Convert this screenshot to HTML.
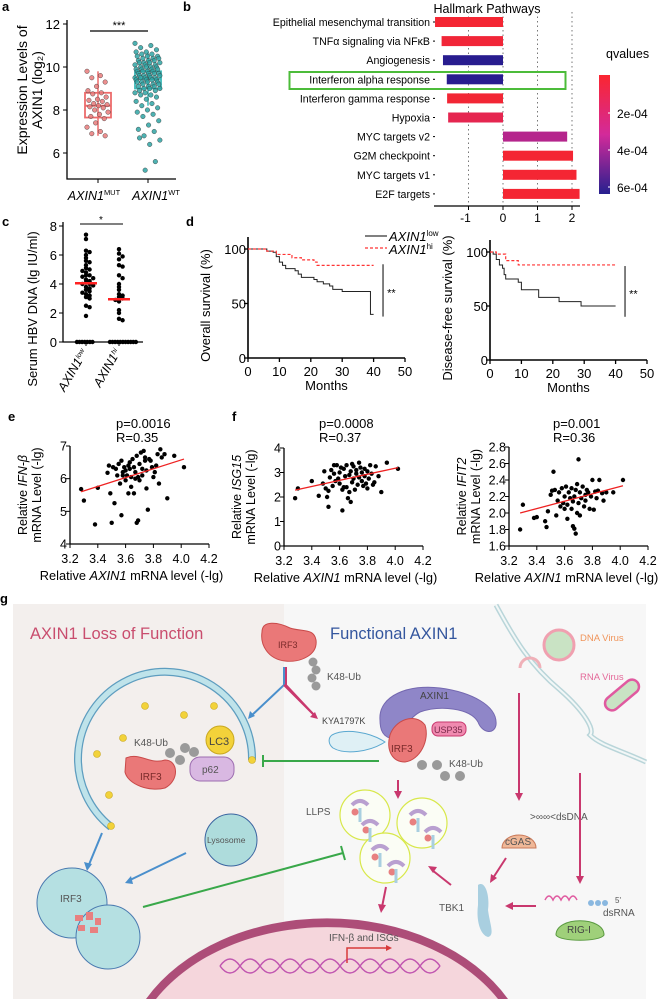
<!DOCTYPE html>
<html><head><meta charset="utf-8"><style>
html,body{margin:0;padding:0;background:#fff;width:660px;height:999px;overflow:hidden;}
svg{display:block;font-family:"Liberation Sans",Arial,sans-serif;overflow:hidden;}
</style></head><body>
<svg id="fig" width="660" height="999" viewBox="0 0 660 999" xmlns="http://www.w3.org/2000/svg">
<g id="chrome" font-weight="bold" font-size="13">
<text x="2" y="11">a</text>
<text x="183" y="11">b</text>
<text x="2" y="226">c</text>
<text x="186" y="226">d</text>
<text x="8" y="421">e</text>
<text x="232" y="421">f</text>
<text x="0" y="603">g</text>
</g>
<g id="charts"></g>

<g id="panel-g">
<rect x="13" y="604" width="271" height="395" fill="#f3efed"/>
<rect x="284" y="604" width="362" height="395" fill="#f7f7f7"/>
<text x="30" y="639" font-size="16.5" fill="#c94d6e">AXIN1 Loss of Function</text>
<text x="330" y="639" font-size="16.5" fill="#34569e">Functional AXIN1</text>
<path d="M496,605 C515,640 530,665 560,690 C585,712 595,730 590,735 C600,745 620,750 646,762" fill="none" stroke="#b9d5d9" stroke-width="5"/>
<path d="M496,605 C515,640 530,665 560,690 C585,712 595,730 590,735 C600,745 620,750 646,762" fill="none" stroke="#f2f7f7" stroke-width="2"/>
<circle cx="559" cy="645" r="15" fill="#c9e3c4" stroke="#f0a0b0" stroke-width="3"/>
<text x="580" y="641" font-size="9.5" fill="#f0945a">DNA Virus</text>
<text x="580" y="680" font-size="9.5" fill="#e46a9a">RNA Virus</text>
<rect x="602" y="688" width="40" height="14" rx="7" transform="rotate(-40 622 695)" fill="#c9e3c4" stroke="#e05aa0" stroke-width="2.5"/>
<path d="M520,668 a10,10 0 0 1 20,0" fill="none" stroke="#f0b0b8" stroke-width="3"/>
<path d="M262,632 C262,620 278,622 290,628 C302,632 314,628 316,640 C318,655 300,663 285,661 C268,659 260,645 262,632 Z" fill="#ea7878" stroke="#c94a4a"/>
<text x="278" y="648" font-size="9" fill="#7a2a2a">IRF3</text>
<g fill="#9a9a9a"><circle cx="313" cy="662" r="4.5"/><circle cx="316" cy="670" r="4.5"/><circle cx="312" cy="678" r="4.5"/><circle cx="316" cy="686" r="4.5"/></g>
<text x="327" y="680" font-size="10" fill="#555">K48-Ub</text>
<path d="M284,667 V685 L250,717" fill="none" stroke="#4a8fcc" stroke-width="2"/>
<path d="M286,667 V685 L316,717" fill="none" stroke="#c9386e" stroke-width="2"/>
<path d="M111,827 A87,87 0 1 1 252,760" fill="none" stroke="#5e9dbf" stroke-width="8"/>
<path d="M111,827 A87,87 0 1 1 252,760" fill="none" stroke="#bfe3ea" stroke-width="5.5"/>
<g fill="#f2d23a" stroke="#c9a820" stroke-width="0.6"><circle cx="145" cy="706" r="3.5"/><circle cx="214" cy="706" r="3.5"/><circle cx="184" cy="715" r="3.5"/><circle cx="123" cy="738" r="3.5"/><circle cx="97" cy="754" r="3.5"/><circle cx="109" cy="795" r="3.5"/><circle cx="111" cy="826" r="3.5"/><circle cx="252" cy="760" r="3.5"/></g>
<circle cx="220" cy="740" r="14" fill="#f3d23a" stroke="#c9a820"/>
<text x="209" y="745" font-size="11" fill="#444">LC3</text>
<text x="134" y="746" font-size="10" fill="#555">K48-Ub</text>
<g fill="#9a9a9a"><circle cx="170" cy="753" r="5"/><circle cx="180" cy="760" r="5"/><circle cx="185" cy="748" r="5"/><circle cx="194" cy="752" r="5"/></g>
<path d="M126,758 C140,752 150,765 165,760 C178,760 180,780 165,788 C150,792 128,785 125,772 Z" fill="#ea7878" stroke="#c94a4a"/>
<text x="140" y="780" font-size="10" fill="#7a2a2a">IRF3</text>
<rect x="190" y="757" width="44" height="24" rx="10" fill="#d9b8e2" stroke="#9c6cb0"/>
<text x="202" y="773" font-size="10" fill="#555">p62</text>
<circle cx="231" cy="840" r="26" fill="#aedcdc" stroke="#3a64a0"/>
<text x="207" y="843" font-size="8.5" fill="#555">Lysosome</text>
<circle cx="72" cy="903" r="35" fill="#b5e0e2" stroke="#4a7ab0"/>
<circle cx="108" cy="937" r="32" fill="#b5e0e2" stroke="#4a7ab0"/>
<text x="60" y="902" font-size="10" fill="#555">IRF3</text>
<g fill="#e88080"><rect x="75" y="915" width="8" height="6"/><rect x="86" y="912" width="7" height="8"/><rect x="95" y="918" width="6" height="7"/><rect x="78" y="925" width="7" height="6"/><rect x="90" y="927" width="8" height="6"/></g>
<g stroke="#4a8fcc" stroke-width="2" fill="none"><path d="M102,833 L88,867"/><path d="M186,853 L128,881"/></g>
<g fill="#4a8fcc"><path d="M87,871 L84,862 L92,864 Z"/><path d="M125,883 L131,876 L133,884 Z"/><path d="M248,719 L250,711 L255,716 Z"/></g>
<path d="M143,907 L343,853" stroke="#39a84a" stroke-width="2"/><path d="M341,846 L345,860" stroke="#39a84a" stroke-width="2"/>
<path d="M263,761 H379" stroke="#39a84a" stroke-width="2"/><path d="M263,755 V767" stroke="#39a84a" stroke-width="2"/>
<path d="M380,720 C378,695 410,684 440,688 C470,692 498,705 496,725 C494,735 482,733 478,722 C470,708 440,705 420,712 C405,720 400,740 390,738 C382,736 380,728 380,720 Z" fill="#8f86c8" stroke="#7468b0"/>
<text x="420" y="699" font-size="10" fill="#444">AXIN1</text>
<text x="322" y="724" font-size="9" fill="#444">KYA1797K</text>
<path d="M332,735 C345,728 370,732 385,742 C370,752 345,755 333,748 C328,744 328,738 332,735 Z" fill="#dff0f5" stroke="#5aa8d0"/>
<rect x="432" y="722" width="34" height="14" rx="6" fill="#f08ab0" stroke="#c9386e"/>
<text x="434" y="733" font-size="9" fill="#7a2a4a">USP35</text>
<path d="M390,735 C395,720 415,712 425,725 C430,740 420,760 405,762 C392,762 386,750 390,735 Z" fill="#ea7878" stroke="#c94a4a"/>
<text x="391" y="752" font-size="10" fill="#7a2a2a">IRF3</text>
<g fill="#9a9a9a"><circle cx="422" cy="765" r="5"/><circle cx="437" cy="765" r="5"/><circle cx="445" cy="776" r="5"/><circle cx="460" cy="776" r="5"/></g>
<text x="449" y="767" font-size="10" fill="#555">K48-Ub</text>
<text x="306" y="815" font-size="10" fill="#555">LLPS</text>
<g fill="#fbfdf5" stroke="#d8e84a" stroke-width="1.2"><circle cx="365" cy="815" r="25"/><circle cx="422" cy="823" r="25"/><circle cx="385" cy="858" r="25"/></g>
<g><path d="M352,805 q8,-8 16,0" stroke="#b9a0d0" stroke-width="4" fill="none"/><path d="M410,815 q8,-8 16,0" stroke="#b9a0d0" stroke-width="4" fill="none"/><path d="M372,850 q8,-8 16,0" stroke="#b9a0d0" stroke-width="4" fill="none"/><path d="M362,825 q8,-8 16,0" stroke="#b9a0d0" stroke-width="4" fill="none"/><path d="M425,832 q8,-8 16,0" stroke="#b9a0d0" stroke-width="4" fill="none"/><path d="M388,866 q8,-8 16,0" stroke="#b9a0d0" stroke-width="4" fill="none"/></g>
<g fill="#e88080"><circle cx="355" cy="812" r="3.5"/><circle cx="413" cy="822" r="3.5"/><circle cx="375" cy="857" r="3.5"/><circle cx="366" cy="830" r="3.5"/><circle cx="428" cy="838" r="3.5"/><circle cx="392" cy="872" r="3.5"/></g>
<g stroke="#a9cfe0" stroke-width="3" fill="none"><path d="M360,808 v14"/><path d="M418,818 v14"/><path d="M380,853 v14"/><path d="M370,828 v14"/><path d="M433,835 v14"/><path d="M396,869 v14"/></g>
<text x="530" y="820" font-size="10" fill="#555">&gt;∞∞&lt;dsDNA</text>
<path d="M502,848 a17,13 0 1 1 34,0 Z" fill="#f0b898" stroke="#c97a5a"/>
<text x="505" y="845" font-size="10" fill="#555">cGAS</text>
<path d="M478,885 C485,880 490,895 488,910 C490,925 495,935 488,937 C480,935 476,920 478,905 Z" fill="#a9cfe0"/>
<text x="439" y="911" font-size="10" fill="#555">TBK1</text>
<path d="M545,900 q4,-8 8,0 q4,-8 8,0 q4,-8 8,0 q4,-8 8,0" fill="none" stroke="#e05aa0" stroke-width="1.5"/>
<g fill="#8ab8e0"><circle cx="591" cy="903" r="3"/><circle cx="598" cy="903" r="3"/><circle cx="605" cy="903" r="3"/></g>
<text x="615" y="903" font-size="8" fill="#555">5'</text>
<text x="603" y="916" font-size="10" fill="#555">dsRNA</text>
<path d="M556,935 C556,916 604,916 604,935 C600,942 560,942 556,935 Z" fill="#9fd07a" stroke="#5a9a40"/>
<text x="567" y="933" font-size="10" fill="#444">RIG-I</text>
<g stroke="#c9386e" stroke-width="2" fill="none"><path d="M316,717 L284,685"/><path d="M519,693 V795"/><path d="M580,773 V878"/><path d="M506,858 L493,878"/><path d="M536,906 H510"/><path d="M451,885 L432,870"/><path d="M398,780 V793"/><path d="M386,887 L382,907"/></g>
<g fill="#c9386e"><path d="M519,801 l-4,-8 h8 Z"/><path d="M580,884 l-4,-8 h8 Z"/><path d="M490,883 l1,-9 l6,4 Z"/><path d="M505,906 l8,-4 v8 Z"/><path d="M428,866 l9,1 l-4,6 Z"/><path d="M398,799 l-4,-8 h8 Z"/><path d="M381,913 l-3,-9 l8,1 Z"/><path d="M318,719 l-8,-2 l5,-5 Z"/></g>
<path d="M146,999 A205,152 0 0 1 508,999 Z" fill="#ad4d78"/>
<path d="M156,999 A198,145 0 0 1 498,999 Z" fill="#f5d6dc"/>
<path d="M220,966 q10,-14 20,0 q10,14 20,0 q10,-14 20,0 q10,14 20,0 q10,-14 20,0 q10,14 20,0 q10,-14 20,0 q10,14 20,0 q10,-14 20,0 q10,14 20,0 q10,-14 20,0" fill="none" stroke="#c056b0" stroke-width="1.5"/>
<path d="M220,966 q10,14 20,0 q10,-14 20,0 q10,14 20,0 q10,-14 20,0 q10,14 20,0 q10,-14 20,0 q10,14 20,0 q10,-14 20,0 q10,14 20,0 q10,-14 20,0 q10,14 20,0" fill="none" stroke="#c056b0" stroke-width="1.5"/>
<text x="329" y="941" font-size="10" fill="#555">IFN-β and ISGs</text>
<path d="M347,963 V948 H388" fill="none" stroke="#d83a3a" stroke-width="1.5"/><path d="M392,948 l-6,-3 v6 Z" fill="#d83a3a"/>
</g>
</svg>
<script>
const mutValues=[9.8,9.6,9.5,9.3,9.1,8.9,8.8,8.75,8.6,8.5,8.45,8.4,8.3,8.25,8.2,8.15,8.1,8.0,7.9,7.8,7.7,7.6,7.4,7.2,7.0,6.9,6.8];
const wtValues=[11.1,11.0,10.9,10.8,10.7,10.7,10.6,10.6,10.5,10.5,10.5,10.4,10.4,10.4,10.3,10.3,10.3,10.2,10.2,10.2,10.2,10.1,10.1,10.1,10.0,10.0,10.0,10.0,9.9,9.9,9.9,9.9,9.8,9.8,9.8,9.8,9.7,9.7,9.7,9.7,9.6,9.6,9.6,9.6,9.5,9.5,9.5,9.5,9.5,9.4,9.4,9.4,9.4,9.3,9.3,9.3,9.3,9.2,9.2,9.2,9.1,9.1,9.1,9.0,9.0,9.0,8.9,8.9,8.8,8.8,8.7,8.7,8.6,8.5,8.4,8.3,8.2,8.1,8.0,7.9,7.8,7.7,7.5,7.3,7.1,7.0,6.8,6.6,6.4,6.7,5.6,5.2];
const boxStats=[[7.65,8.2,8.8,6.8,9.8],[9.0,9.45,9.8,8.2,10.7]];
const pathways=["Epithelial mesenchymal transition","TNFα signaling via NFκB","Angiogenesis","Interferon alpha response","Interferon gamma response","Hypoxia","MYC targets v2","G2M checkpoint","MYC targets v1","E2F targets"];
const nes=[-1.97,-1.78,-1.74,-1.63,-1.62,-1.59,1.86,2.03,2.13,2.22];
const qvals=[0.00001,0.00003,0.00068,0.00068,0.00002,0.00012,0.00038,0.00001,0.00001,0.00001];
const hbvLow=[7.4,7.1,6.3,6.2,6.0,5.8,5.6,5.5,5.3,5.1,5.0,4.9,4.8,4.6,4.6,4.5,4.4,4.3,4.2,4.1,4.0,4.0,3.9,3.8,3.7,3.6,3.5,3.4,3.3,3.2,3.1,3.0,2.5,2.4,1.8,0,0,0,0,0,0,0];
const hbvHi=[6.4,6.1,5.9,5.7,5.3,5.2,4.6,4.4,4.0,3.8,3.6,3.3,3.2,3.1,3.0,2.9,2.8,2.2,2.0,1.6,1.5,0,0,0,0,0,0,0,0,0,0,0];
const hbvMedians=[4.05,2.95];
const osLowT=[0,5,6,8,9,10,11,12,15,16,17,21,22,24,26,27,30,39,40];
const osLowS=[100,100,98,97,93,88,85,82,80,77,74,72,70,68,66,63,61,40,40];
const osHiT=[0,5,6,9,14,17,21,22,40];
const osHiS=[100,100,98,95,92,90,88,85,85];
const dfsLowT=[0,1,2,3,4,4.5,5,9,10,15.5,22,29,40];
const dfsLowS=[100,98,93,88,85,79,75,72,65,58,54,50,50];
const dfsHiT=[0,2,5,9,40];
const dfsHiS=[100,98,92,88,88];
const ifnbPts=[[3.28,5.68],[3.30,5.33],[3.38,4.60],[3.40,5.72],[3.47,6.18],[3.48,6.40],[3.49,5.55],[3.50,4.65],[3.51,6.35],[3.52,5.25],[3.53,6.30],[3.54,6.10],[3.55,6.45],[3.56,5.85],[3.57,6.55],[3.57,4.88],[3.58,6.20],[3.59,6.35],[3.60,5.95],[3.60,6.25],[3.61,6.10],[3.62,5.55],[3.62,6.40],[3.63,6.30],[3.64,6.05],[3.64,5.75],[3.65,6.60],[3.66,6.35],[3.67,6.20],[3.67,6.00],[3.68,6.70],[3.68,4.65],[3.69,4.72],[3.69,6.05],[3.70,6.45],[3.70,5.95],[3.71,6.80],[3.72,6.30],[3.72,6.10],[3.73,6.85],[3.74,6.55],[3.75,5.70],[3.75,6.25],[3.76,5.05],[3.77,6.60],[3.78,6.55],[3.79,6.35],[3.80,6.05],[3.81,6.20],[3.82,6.40],[3.83,6.75],[3.84,5.85],[3.85,6.90],[3.86,6.65],[3.88,6.75],[3.90,5.40],[3.95,6.70],[4.02,6.35],[3.58,6.10],[3.63,6.50],[3.66,5.55],[3.74,6.65]];
const isg15Pts=[[3.28,1.95],[3.30,2.35],[3.40,2.65],[3.45,2.05],[3.48,2.55],[3.49,3.05],[3.50,2.35],[3.51,2.00],[3.52,1.60],[3.53,2.80],[3.54,3.10],[3.55,2.45],[3.56,2.95],[3.57,2.65],[3.58,3.30],[3.59,2.75],[3.60,3.00],[3.60,2.55],[3.61,3.20],[3.62,1.45],[3.62,2.30],[3.63,3.15],[3.64,2.85],[3.65,2.40],[3.65,3.30],[3.66,1.95],[3.67,2.90],[3.67,2.20],[3.68,3.05],[3.68,1.80],[3.69,2.60],[3.70,3.25],[3.70,2.75],[3.71,2.30],[3.72,3.10],[3.72,2.95],[3.73,2.50],[3.74,3.40],[3.74,2.80],[3.75,3.20],[3.76,2.65],[3.76,3.00],[3.77,2.45],[3.78,3.15],[3.78,2.85],[3.79,2.55],[3.80,3.05],[3.81,2.75],[3.82,3.30],[3.83,2.95],[3.84,2.50],[3.85,2.60],[3.86,3.25],[3.88,2.85],[3.90,2.20],[3.94,3.40],[4.02,3.15],[3.56,3.30],[3.63,2.40],[3.69,3.35],[3.80,2.35],[3.52,2.25]];
const ifit2Pts=[[3.28,1.80],[3.30,2.10],[3.38,1.94],[3.40,1.95],[3.46,1.90],[3.47,1.83],[3.48,2.02],[3.50,2.22],[3.51,2.27],[3.52,2.50],[3.53,2.28],[3.54,1.97],[3.55,2.15],[3.56,2.25],[3.57,2.08],[3.58,2.30],[3.59,2.12],[3.60,2.05],[3.60,2.20],[3.61,2.32],[3.62,1.93],[3.62,2.10],[3.63,2.25],[3.64,2.18],[3.65,2.05],[3.65,2.30],[3.66,2.14],[3.66,1.84],[3.67,1.81],[3.67,2.20],[3.68,1.75],[3.68,2.28],[3.69,2.00],[3.69,2.35],[3.70,2.65],[3.70,2.12],[3.71,1.97],[3.71,2.25],[3.72,2.18],[3.73,2.32],[3.74,2.08],[3.75,2.22],[3.75,2.15],[3.76,2.28],[3.77,2.25],[3.78,2.05],[3.79,2.20],[3.80,2.40],[3.81,2.04],[3.82,2.26],[3.83,2.18],[3.84,2.27],[3.85,2.40],[3.87,2.24],[3.88,2.15],[3.90,2.25],[3.95,2.25],[4.02,2.40]];
const fitIfnb=[[3.28,5.6],[4.02,6.6]];
const fitIsg15=[[3.28,2.28],[4.02,3.2]];
const fitIfit2=[[3.28,2.0],[4.02,2.33]];
const scatterXTicks=["3.2","3.4","3.6","3.8","4.0","4.2"];

const NS="http://www.w3.org/2000/svg";
const root=document.getElementById('charts');
function mk(tag,attrs,parent,txt){const e=document.createElementNS(NS,tag);for(const k in attrs)e.setAttribute(k,attrs[k]);if(txt!==undefined)e.textContent=txt;(parent||root).appendChild(e);return e;}
function lin(d0,d1,r0,r1){return v=>r0+(v-d0)/(d1-d0)*(r1-r0);}
function grp(name){const g=mk('g',{});return g;}

(function(){
const g=grp('panel-a-boxplot');
const y=lin(6,12,153,24);
const cx=[98,148];
mk('path',{d:'M67,20 V179 H176',fill:'none',stroke:'#000','stroke-width':1.3},g);
[6,8,10,12].forEach(v=>{mk('line',{x1:63,x2:67,y1:y(v),y2:y(v),stroke:'#000'},g);const t=mk('text',{x:60,y:y(v)+5,'font-size':13,'text-anchor':'end'},g,String(v));});
cx.forEach(c=>mk('line',{x1:c,x2:c,y1:179,y2:183,stroke:'#000'},g));
const cols=['#ec6b6b','#3bb8b8'],fills=['#e87a7a','#2fa5a5'];
[mutValues,wtValues].forEach((vals,gi)=>{
 const s=boxStats[gi];
 mk('line',{x1:cx[gi],x2:cx[gi],y1:y(s[3]),y2:y(s[4]),stroke:cols[gi],'stroke-width':1.5},g);
 const b=mk('rect',{x:cx[gi]-13,y:y(s[2]),width:26,height:y(s[0])-y(s[2]),fill:'none',stroke:cols[gi],'stroke-width':1.8},g);
 
 mk('line',{x1:cx[gi]-13,x2:cx[gi]+13,y1:y(s[1]),y2:y(s[1]),stroke:cols[gi],'stroke-width':2},g);
 vals.forEach((v,i)=>{const j=((i*37)%23)/23-0.5;const p=mk('circle',{cx:cx[gi]+j*(gi?26:22),cy:y(v),r:2.3,fill:fills[gi],stroke:'#333','stroke-width':0.4,'fill-opacity':0.85},g);
 });
});
mk('line',{x1:90,x2:148,y1:31,y2:31,stroke:'#000','stroke-width':1.2},g);
mk('text',{x:119,y:29,'font-size':11,'text-anchor':'middle'},g,'***');
const yt=mk('text',{transform:'translate(27,90) rotate(-90)','font-size':14,'text-anchor':'middle'},g,'Expression Levels of');
mk('text',{transform:'translate(42,90) rotate(-90)','font-size':14,'text-anchor':'middle'},g,'AXIN1 (log₂)');
const l1=mk('text',{x:94,y:200,'font-size':12.5,'text-anchor':'middle','font-style':'italic'},g);l1.innerHTML='AXIN1<tspan font-size="7.5" dy="-5" font-style="normal">MUT</tspan>';
const l2=mk('text',{x:156,y:200,'font-size':12.5,'text-anchor':'middle','font-style':'italic'},g);l2.innerHTML='AXIN1<tspan font-size="7.5" dy="-5" font-style="normal">WT</tspan>';
})();

(function(){
const g=grp('panel-b-hallmark-bars');
const x=lin(0,1,503,537.5);
const rowY=i=>22+i*19.1;
mk('text',{x:487,y:13,'font-size':12.5,'text-anchor':'middle'},g,'Hallmark Pathways');
[-1,0,1,2].forEach(v=>{mk('line',{x1:x(v),x2:x(v),y1:12,y2:206,stroke:'#777','stroke-dasharray':'1.5,3'},g);
 mk('line',{x1:x(v),x2:x(v),y1:206,y2:210,stroke:'#000'},g);
 mk('text',{x:x(v)-(v<0?3:0),y:222,'font-size':12,'text-anchor':'middle'},g,String(v));});
mk('line',{x1:434,x2:580,y1:206,y2:206,stroke:'#000','stroke-width':1.2},g);
function qcol(q){const t=Math.min(1,q/0.00068);const a=[245,38,48],m=[200,38,140],b=[40,28,143];let c;if(t<0.5){const u=t/0.5;c=a.map((v,k)=>v+(m[k]-v)*u);}else{const u=(t-0.5)/0.5;c=m.map((v,k)=>v+(b[k]-v)*u);}return 'rgb('+c.map(Math.round).join(',')+')';}
pathways.forEach((p,i)=>{
 const t=mk('text',{x:430,y:rowY(i)+4,'font-size':10.6,'text-anchor':'end'},g,p);
 mk('line',{x1:433,x2:435,y1:rowY(i),y2:rowY(i),stroke:'#000'},g);
 const v=nes[i];const b=mk('rect',{x:Math.min(x(0),x(v)),y:rowY(i)-5,width:Math.abs(x(v)-x(0)),height:10,fill:qcol(qvals[i])},g);
 
});
const hb=mk('rect',{x:289.5,y:72,width:276,height:17,fill:'none',stroke:'#4cbc3a','stroke-width':2},g);
const defs=mk('defs',{},g);const lg=mk('linearGradient',{id:'qg',x1:0,y1:0,x2:0,y2:1},defs);
mk('stop',{offset:'0','stop-color':'#fb2630'},lg);mk('stop',{offset:'0.5','stop-color':'#d32a9a'},lg);mk('stop',{offset:'1','stop-color':'#26208f'},lg);
const cb=mk('rect',{x:599,y:75,width:11,height:119,fill:'url(#qg)'},g);
mk('text',{x:606,y:58,'font-size':12.5},g,'qvalues');
[['2e-04',113],['4e-04',150],['6e-04',187]].forEach(a=>{mk('line',{x1:608,x2:610,y1:a[1],y2:a[1],stroke:'#fff'},g);mk('text',{x:617,y:a[1]+5,'font-size':12},g,a[0]);});
})();

(function(){
const g=grp('panel-c-hbv-dna');
const y=lin(0,8,342,226);const cx=[86,119];
mk('path',{d:'M63,222 V342 H143',fill:'none',stroke:'#000','stroke-width':1.3},g);
[0,2,4,6,8].forEach(v=>{mk('line',{x1:59,x2:63,y1:y(v),y2:y(v),stroke:'#000'},g);mk('text',{x:57,y:y(v)+5,'font-size':13,'text-anchor':'end'},g,String(v));});
cx.forEach(c=>mk('line',{x1:c,x2:c,y1:342,y2:346,stroke:'#000'},g));
[hbvLow,hbvHi].forEach((vals,gi)=>{
 const cnt={};vals.forEach(v=>{const k=Math.round(v*4);cnt[k]=(cnt[k]||0);const n=cnt[k]++;const off=(n%2?1:-1)*Math.ceil(n/2)*3.6;
 const p=mk('circle',{cx:cx[gi]+(v===0?((n-3.5)*2.6):off),cy:y(v),r:2.2,fill:'#000'},g);});
 const m=mk('line',{x1:cx[gi]-11,x2:cx[gi]+11,y1:y(hbvMedians[gi]),y2:y(hbvMedians[gi]),stroke:'#f22','stroke-width':2.5},g);
});
mk('line',{x1:80,x2:123,y1:224,y2:224,stroke:'#000'},g);mk('text',{x:101,y:223,'font-size':10,'text-anchor':'middle'},g,'*');
mk('text',{transform:'translate(37,309) rotate(-90)','font-size':13,'text-anchor':'middle'},g,'Serum HBV DNA (lg IU/ml)');
const a=mk('text',{transform:'translate(88,352) rotate(-60)','font-size':12.5,'text-anchor':'end','font-style':'italic'},g);a.innerHTML='AXIN1<tspan font-size="7" dy="-4">low</tspan>';
const b=mk('text',{transform:'translate(121,352) rotate(-60)','font-size':12.5,'text-anchor':'end','font-style':'italic'},g);b.innerHTML='AXIN1<tspan font-size="7" dy="-4">hi</tspan>';
})();

function km(name,ox,x50,y100,y0,ylab,lowT,lowS,hiT,hiS,sigTop,sigBot){
 const g=grp(name);const x=lin(0,50,ox,x50),y=lin(0,100,y0,y100);
 mk('path',{d:`M${ox},${y100-12} V${y0} H${x50}`,fill:'none',stroke:'#000','stroke-width':1.6},g);
 [0,50,100].forEach(v=>{mk('line',{x1:ox-4,x2:ox,y1:y(v),y2:y(v),stroke:'#000','stroke-width':1.3},g);mk('text',{x:ox-2,y:y(v)+5,'font-size':13,'text-anchor':'end'},g,String(v));});
 [0,10,20,30,40,50].forEach(v=>{mk('line',{x1:x(v),x2:x(v),y1:y0,y2:y0+4,stroke:'#000','stroke-width':1.3},g);mk('text',{x:x(v),y:y0+18,'font-size':13,'text-anchor':'middle'},g,String(v));});
 mk('text',{x:(ox+x50)/2,y:y0+32,'font-size':13,'text-anchor':'middle'},g,'Months');
 mk('text',{transform:`translate(${ox-38},${(y100+y0)/2+2}) rotate(-90)`,'font-size':13,'text-anchor':'middle'},g,ylab);
 function step(T,S){let d=`M${x(T[0])},${y(S[0])}`;for(let i=1;i<T.length;i++){d+=` H${x(T[i])} V${y(S[i])}`;}return d;}
 const l=mk('path',{d:step(lowT,lowS),fill:'none',stroke:'#222','stroke-width':1},g);
 const h=mk('path',{d:step(hiT,hiS),fill:'none',stroke:'#f33','stroke-width':1.2,'stroke-dasharray':'3,2'},g);
 mk('line',{x1:x(43),x2:x(43),y1:y(sigTop),y2:y(sigBot),stroke:'#000'},g);
 mk('text',{x:x(44.3),y:y((sigTop+sigBot)/2)+6,'font-size':11},g,'**');
}
km('panel-d-os-km',248,405,249,358,'Overall survival (%)',osLowT,osLowS,osHiT,osHiS,86,38);
km('panel-d-dfs-km',490,647,252,360,'Disease-free survival (%)',dfsLowT,dfsLowS,dfsHiT,dfsHiS,87,40);
(function(){const g=grp('km-legend');
mk('line',{x1:365,x2:387,y1:236,y2:236,stroke:'#000'},g);
mk('line',{x1:365,x2:387,y1:248,y2:248,stroke:'#f33','stroke-dasharray':'3,2','stroke-width':1.2},g);
const a=mk('text',{x:389,y:241,'font-size':13,'font-style':'italic'},g);a.innerHTML='AXIN1<tspan font-size="8" dy="-5" font-style="normal">low</tspan>';
const b=mk('text',{x:389,y:254,'font-size':13,'font-style':'italic'},g);b.innerHTML='AXIN1<tspan font-size="8" dy="-5" font-style="normal">hi</tspan>';})();

function scatter(name,x0,x1,yTop,yBot,yMin,yMax,yTicks,pts,fit,gene,pTxt,rTxt,pX,titleShift){
 const g=grp(name);const x=lin(3.2,4.2,x0,x1),y=lin(yMin,yMax,yBot,yTop);
 mk('path',{d:`M${x0},${yTop} V${yBot} H${x1}`,fill:'none',stroke:'#000','stroke-width':1.3},g);
 yTicks.forEach(v=>{mk('line',{x1:x0-4,x2:x0,y1:y(+v),y2:y(+v),stroke:'#000'},g);mk('text',{x:x0-3,y:y(+v)+4.5,'font-size':12.5,'text-anchor':'end'},g,v);});
 scatterXTicks.forEach(v=>{mk('line',{x1:x(+v),x2:x(+v),y1:yBot,y2:yBot+4,stroke:'#000'},g);mk('text',{x:x(+v),y:yBot+19,'font-size':12.5,'text-anchor':'middle'},g,v);});
 pts.forEach(p=>{const c=mk('circle',{cx:x(p[0]),cy:y(p[1]),r:2.2,fill:'#000'},g);});
 const f=mk('line',{x1:x(fit[0][0]),y1:y(fit[0][1]),x2:x(fit[1][0]),y2:y(fit[1][1]),stroke:'#e22','stroke-width':1.3},g);
 mk('text',{x:pX,y:428,'font-size':13},g,pTxt);mk('text',{x:pX,y:442,'font-size':13},g,rTxt);
 const t=mk('text',{x:(x0+x1)/2-titleShift,y:yBot+36,'font-size':12.8,'text-anchor':'middle'},g);t.innerHTML='Relative <tspan font-style="italic">AXIN1</tspan> mRNA level (-lg)';
 const cy=(yTop+yBot)/2;
 const y1=mk('text',{transform:`translate(${x0-43},${cy}) rotate(-90)`,'font-size':12.5,'text-anchor':'middle'},g);y1.innerHTML='Relative <tspan font-style="italic">'+gene+'</tspan>';
 mk('text',{transform:`translate(${x0-29},${cy}) rotate(-90)`,'font-size':12.5,'text-anchor':'middle'},g,'mRNA Level (-lg)');
}
scatter('panel-e-ifnb-scatter',70,209,446,544,4,7,['4','5','6','7'],ifnbPts,fitIfnb,'IFN-β','p=0.0016','R=0.35',116,8);
scatter('panel-f-isg15-scatter',284,423,448,546,0,4,['0','1','2','3','4'],isg15Pts,fitIsg15,'ISG15','p=0.0008','R=0.37',319,8);
scatter('panel-f-ifit2-scatter',509,648,447,546,1.6,2.8,['1.6','1.8','2.0','2.2','2.4','2.6','2.8'],ifit2Pts,fitIfit2,'IFIT2','p=0.001','R=0.36',553,12);
</script>
</body></html>
